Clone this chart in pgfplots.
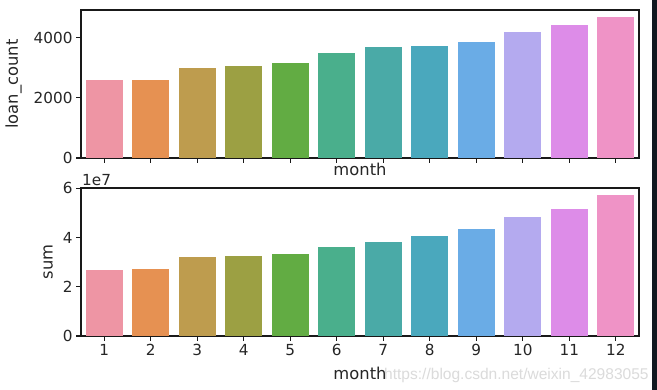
\documentclass[border=0pt]{standalone}
\usepackage{pgfplots}
\pgfplotsset{compat=1.18}
\usepackage{fontspec}
\setmainfont{DejaVu Sans}
\newfontfamily\wmfont{Liberation Sans}
\definecolor{tc}{HTML}{262626}
\definecolor{ca}{HTML}{EE95A4}
\definecolor{cb}{HTML}{E69152}
\definecolor{cc}{HTML}{BE9C4E}
\definecolor{cd}{HTML}{9CA043}
\definecolor{ce}{HTML}{62AC43}
\definecolor{cf}{HTML}{4AAF8C}
\definecolor{cg}{HTML}{4AAAA7}
\definecolor{ch}{HTML}{4AA8BD}
\definecolor{ci}{HTML}{6AACE6}
\definecolor{cj}{HTML}{B4AAEF}
\definecolor{ck}{HTML}{DD8CE8}
\definecolor{cl}{HTML}{EF93C6}
\definecolor{dark}{HTML}{111820}
\pgfplotsset{
  myax/.style={
    scale only axis, width=558bp, height=148bp,
    xmin=-0.5, xmax=11.5, ymin=0,
    axis line style={line width=1.2bp, color=black!90},
    every tick/.style={line width=1.2bp, color=black!90},
    major tick length=5bp,
    tick align=outside,
    xtick pos=bottom, ytick pos=left,
    xtick={0,...,11},
    ticklabel style={font=\fontsize{15.3}{18}\selectfont, text=tc},
    label style={font=\fontsize{16.4}{19}\selectfont, text=tc},
    /pgf/number format/assume math mode=true,
    /pgf/number format/1000 sep={},
    every axis plot/.append style={ybar, bar width=0.8, bar shift=0pt, draw=none},
  }
}
\begin{document}
\begin{tikzpicture}
\path[use as bounding box, fill=white] (0bp,0bp) rectangle (657bp,390bp);
\fill[dark] (652bp,0bp) rectangle (657bp,390bp);
\begin{axis}[myax,
  at={(81bp,232bp)}, anchor=south west,
  ymax=4912, ytick={0,2000,4000},
  xticklabels={},
  xlabel={month}, ylabel={loan\_count},
  xlabel style={at={(axis description cs:0.5,-0.078)}, anchor=center},
  ylabel style={at={(axis description cs:-0.121,0.5)}, anchor=center},
]
\addplot[fill=ca] coordinates {(0,2573)};
\addplot[fill=cb] coordinates {(1,2580)};
\addplot[fill=cc] coordinates {(2,2974)};
\addplot[fill=cd] coordinates {(3,3041)};
\addplot[fill=ce] coordinates {(4,3141)};
\addplot[fill=cf] coordinates {(5,3475)};
\addplot[fill=cg] coordinates {(6,3676)};
\addplot[fill=ch] coordinates {(7,3709)};
\addplot[fill=ci] coordinates {(8,3843)};
\addplot[fill=cj] coordinates {(9,4177)};
\addplot[fill=ck] coordinates {(10,4411)};
\addplot[fill=cl] coordinates {(11,4678)};
\end{axis}
\begin{axis}[myax,
  at={(81bp,54bp)}, anchor=south west,
  ymax=60100000, ytick={0,20000000,40000000,60000000},
  scaled y ticks=base 10:-7,
  ytick scale label code/.code={1e7},
  every y tick scale label/.style={at={(axis description cs:0,1)}, anchor=base west, xshift=1bp, yshift=3bp, inner sep=0pt, font=\fontsize{15.3}{18}\selectfont, text=tc},
  xticklabels={1,2,3,4,5,6,7,8,9,10,11,12},
  xlabel={month}, ylabel={sum},
  xlabel style={at={(axis description cs:0.5,-0.25)}, anchor=center},
  ylabel style={at={(axis description cs:-0.059,0.5)}, anchor=center},
]
\addplot[fill=ca] coordinates {(0,27000000)};
\addplot[fill=cb] coordinates {(1,27400000)};
\addplot[fill=cc] coordinates {(2,31900000)};
\addplot[fill=cd] coordinates {(3,32300000)};
\addplot[fill=ce] coordinates {(4,33500000)};
\addplot[fill=cf] coordinates {(5,36000000)};
\addplot[fill=cg] coordinates {(6,38000000)};
\addplot[fill=ch] coordinates {(7,40500000)};
\addplot[fill=ci] coordinates {(8,43400000)};
\addplot[fill=cj] coordinates {(9,48300000)};
\addplot[fill=ck] coordinates {(10,51500000)};
\addplot[fill=cl] coordinates {(11,57300000)};
\end{axis}
\node[anchor=base west, inner sep=0pt, text=black!14, font=\wmfont\fontsize{15.6}{18}\selectfont] at (384bp,11bp) {https://blog.csdn.net/weixin\_42983055};
\end{tikzpicture}
\end{document}
